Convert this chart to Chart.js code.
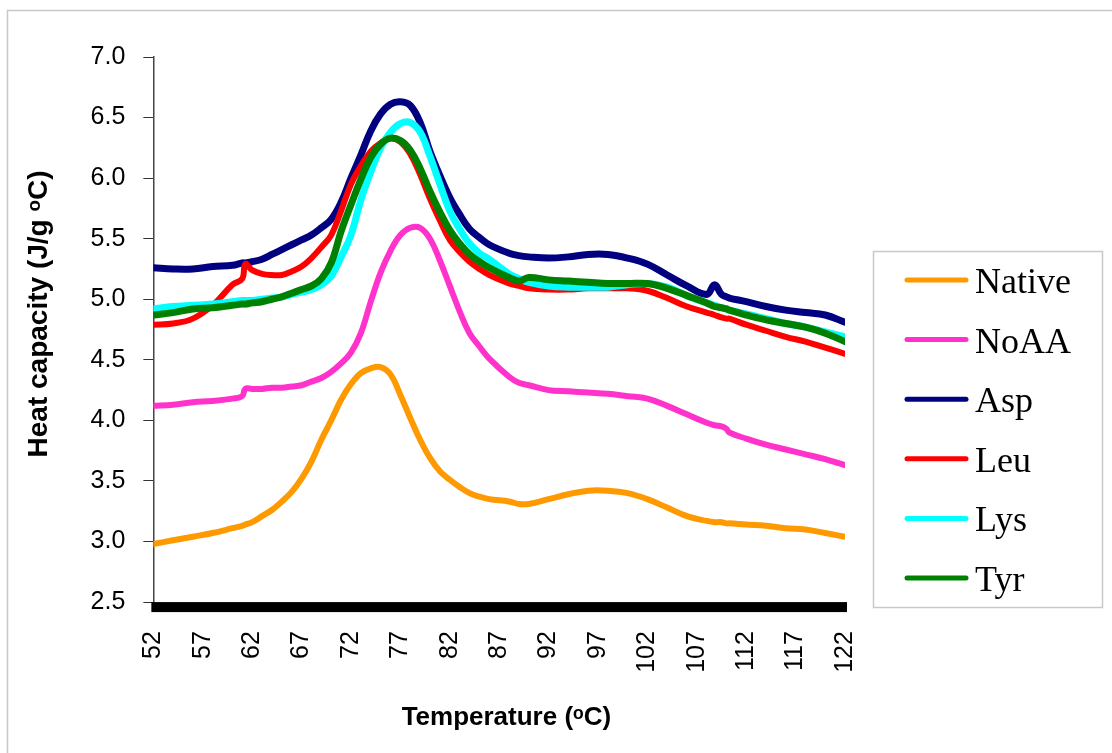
<!DOCTYPE html>
<html>
<head>
<meta charset="utf-8">
<title>Heat capacity</title>
<script src="https://cdn.jsdelivr.net/npm/chart.js"></script>
<style>
  body { margin: 0; background: #fff; }
  #wrap { width: 1112px; height: 753px; }
</style>
</head>
<body>
<div id="wrap"><canvas id="cpChart" width="1112" height="753"></canvas></div>
<script>
// temperatures (°C) shared by all curves
const temps = [52, 54, 56, 58, 60, 61, 61.3, 62, 63, 64, 65, 66, 67, 68, 69, 70, 71, 72, 73, 74, 75, 76, 77, 78, 79, 80, 81, 82, 83, 84, 85, 86, 88, 89, 90, 92, 94, 96, 98, 100, 102, 104, 106, 108, 108.8, 109.5, 110, 110.3, 112, 114, 116, 118, 120, 122];

const native = [2.98, 3.01, 3.04, 3.07, 3.11, 3.13, 3.14, 3.16, 3.21, 3.26, 3.33, 3.41, 3.52, 3.66, 3.84, 4.00, 4.17, 4.30, 4.39, 4.43, 4.44, 4.38, 4.21, 4.02, 3.84, 3.69, 3.58, 3.51, 3.45, 3.40, 3.37, 3.35, 3.33, 3.31, 3.31, 3.35, 3.39, 3.42, 3.42, 3.40, 3.35, 3.28, 3.21, 3.17, 3.16, 3.16, 3.15, 3.15, 3.14, 3.13, 3.11, 3.10, 3.07, 3.04];
const noAA = [4.12, 4.13, 4.15, 4.16, 4.18, 4.20, 4.26, 4.26, 4.26, 4.27, 4.27, 4.28, 4.29, 4.32, 4.35, 4.40, 4.47, 4.56, 4.72, 4.98, 5.22, 5.40, 5.53, 5.59, 5.59, 5.50, 5.32, 5.11, 4.90, 4.72, 4.61, 4.51, 4.36, 4.31, 4.29, 4.25, 4.24, 4.23, 4.22, 4.20, 4.18, 4.12, 4.05, 3.98, 3.96, 3.95, 3.93, 3.90, 3.85, 3.80, 3.76, 3.72, 3.68, 3.63];
const asp = [5.26, 5.25, 5.25, 5.27, 5.28, 5.30, 5.30, 5.31, 5.33, 5.37, 5.41, 5.45, 5.49, 5.53, 5.59, 5.66, 5.80, 6.00, 6.19, 6.39, 6.53, 6.61, 6.63, 6.60, 6.46, 6.22, 6.02, 5.84, 5.70, 5.58, 5.51, 5.45, 5.38, 5.36, 5.35, 5.34, 5.35, 5.37, 5.37, 5.34, 5.29, 5.20, 5.11, 5.04, 5.12, 5.04, 5.02, 5.01, 4.98, 4.94, 4.91, 4.89, 4.87, 4.81];
const leu = [4.79, 4.80, 4.84, 4.95, 5.12, 5.17, 5.29, 5.24, 5.21, 5.20, 5.20, 5.23, 5.27, 5.34, 5.43, 5.53, 5.73, 5.95, 6.10, 6.22, 6.29, 6.33, 6.30, 6.20, 6.03, 5.83, 5.65, 5.49, 5.39, 5.31, 5.25, 5.20, 5.13, 5.11, 5.09, 5.08, 5.08, 5.09, 5.09, 5.09, 5.07, 5.01, 4.94, 4.89, 4.87, 4.85, 4.84, 4.84, 4.79, 4.74, 4.69, 4.65, 4.60, 4.55];
const lys = [4.92, 4.94, 4.95, 4.96, 4.98, 4.99, 4.99, 4.99, 5.00, 5.01, 5.02, 5.04, 5.06, 5.08, 5.12, 5.19, 5.35, 5.53, 5.82, 6.05, 6.25, 6.38, 6.45, 6.46, 6.38, 6.18, 5.95, 5.73, 5.58, 5.46, 5.38, 5.33, 5.21, 5.17, 5.14, 5.11, 5.10, 5.10, 5.10, 5.12, 5.13, 5.10, 5.03, 4.97, 4.95, 4.93, 4.92, 4.91, 4.88, 4.84, 4.80, 4.77, 4.73, 4.69];
const tyr = [4.87, 4.89, 4.92, 4.93, 4.95, 4.96, 4.96, 4.97, 4.98, 5.00, 5.02, 5.05, 5.08, 5.11, 5.17, 5.30, 5.56, 5.78, 5.99, 6.17, 6.28, 6.33, 6.31, 6.23, 6.08, 5.89, 5.72, 5.57, 5.46, 5.37, 5.31, 5.26, 5.18, 5.15, 5.18, 5.16, 5.15, 5.14, 5.13, 5.13, 5.13, 5.09, 5.03, 4.97, 4.94, 4.93, 4.92, 4.91, 4.87, 4.83, 4.80, 4.77, 4.72, 4.65];

const seriesNames = ['Native', 'NoAA', 'Asp', 'Leu', 'Lys', 'Tyr'];
const seriesColors = ['#FF9900', '#FF33CC', '#000080', '#FF0000', '#00FFFF', '#008000'];
const seriesWidths = [6, 6, 7, 6, 7, 7];
const seriesValues = [native, noAA, asp, leu, lys, tyr];

const xTicks = [52, 57, 62, 67, 72, 77, 82, 87, 92, 97, 102, 107, 112, 117, 122];

const sansFont = '"Liberation Sans", Arial, sans-serif';

// legend box on the right + thin frame + heavy x axis bar
const decor = {
  id: 'decor',
  beforeDatasetsDraw(chart) {
    const ctx = chart.ctx, a = chart.chartArea;
    const y0 = chart.scales.y.getPixelForValue(2.5);
    ctx.save();
    ctx.fillStyle = '#000';
    ctx.fillRect(a.left - 2, y0, a.right - a.left + 4, 10);
    ctx.restore();
  },
  afterDraw(chart) {
    const ctx = chart.ctx;
    ctx.save();
    ctx.strokeStyle = '#c8c8c8';
    ctx.lineWidth = 1.5;
    ctx.strokeRect(7.5, 10.5, 1200, 800);
    ctx.strokeRect(873.5, 251.5, 229, 356);
    ctx.font = '36px "Liberation Serif", "Times New Roman", serif';
    ctx.textBaseline = 'alphabetic';
    ctx.fillStyle = '#000';
    chart.data.datasets.forEach((ds, i) => {
      const cy = 280 + i * 59.6;
      ctx.strokeStyle = ds.borderColor;
      ctx.lineWidth = 5;
      ctx.lineCap = 'round';
      ctx.beginPath();
      ctx.moveTo(907, cy);
      ctx.lineTo(966, cy);
      ctx.stroke();
      ctx.fillText(ds.label, 975, cy + 13);
    });
    ctx.restore();
  }
};

new Chart(document.getElementById('cpChart'), {
  type: 'line',
  data: {
    datasets: seriesNames.map((name, i) => ({
      label: name,
      data: temps.map((t, j) => ({ x: t, y: seriesValues[i][j] })),
      borderColor: seriesColors[i],
      borderWidth: seriesWidths[i],
      borderCapStyle: 'round',
      borderJoinStyle: 'round',
      pointRadius: 0,
      tension: 0.4,
      fill: false,
      order: seriesNames.length - i
    }))
  },
  options: {
    responsive: false,
    animation: false,
    layout: { padding: { top: 57, right: 267, left: 8, bottom: 12 } },
    plugins: {
      legend: { display: false },
      tooltip: { enabled: false }
    },
    scales: {
      x: {
        type: 'linear',
        min: 52,
        max: 122,
        afterBuildTicks: s => { s.ticks = xTicks.map(v => ({ value: v })); },
        grid: { display: false, drawTicks: false },
        border: { display: false },
        ticks: {
          autoSkip: false,
          minRotation: 90,
          maxRotation: 90,
          padding: 29,
          color: '#000',
          font: { family: sansFont, size: 25 }
        },
        title: {
          display: true,
          text: '\u00a0\u00a0Temperature (ᵒC)',
          color: '#000',
          padding: { top: 0, bottom: 8 },
          font: { family: sansFont, size: 26, weight: 'bold' }
        }
      },
      y: {
        min: 2.5,
        max: 7.0,
        ticks: {
          stepSize: 0.5,
          padding: 18,
          color: '#000',
          callback: v => v.toFixed(1),
          font: { family: sansFont, size: 25 }
        },
        grid: { display: true, drawOnChartArea: false, drawTicks: true, tickLength: 10, color: '#333', lineWidth: 1 },
        border: { display: true, color: '#444', width: 1.5 },
        title: {
          display: true,
          text: '\u00a0\u00a0\u00a0\u00a0Heat capacity (J/g ᵒC)',
          color: '#000',
          padding: { top: 14, bottom: 17 },
          font: { family: sansFont, size: 28, weight: 'bold' }
        }
      }
    }
  },
  plugins: [decor]
});
</script>
</body>
</html>
